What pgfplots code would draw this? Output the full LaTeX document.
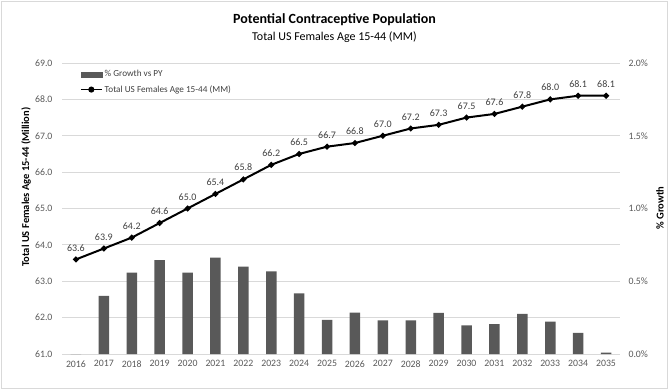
\documentclass[border=0pt]{standalone}
\usepackage{pgfplots}
\pgfplotsset{compat=1.18}
\usepackage{fontspec}
\setmainfont{Carlito}
\definecolor{bargray}{HTML}{595959}
\definecolor{gridgray}{HTML}{D9D9D9}
\definecolor{ticktext}{HTML}{595959}
\definecolor{labeltext}{HTML}{404040}

\begin{document}
\begin{tikzpicture}[x=1pt,y=1pt]
\path[use as bounding box] (0,0) rectangle (669,391);
\draw[gridgray, line width=1pt] (1.5,2.5) rectangle (667.5,389.5);
\node[font=\fontsize{14}{16}\selectfont\bfseries] at (334.5,371) {Potential Contraceptive Population};
\node[font=\fontsize{12}{14}\selectfont] at (334.5,354) {Total US Females Age 15-44 (MM)};
\node[rotate=90, font=\fontsize{10.5}{12}\selectfont\bfseries] at (26,204) {Total US Females Age 15-44 (Million)};
\node[rotate=90, font=\fontsize{10.5}{12}\selectfont\bfseries] at (660,183) {\% Growth};

\pgfplotsset{
  common/.style={
    scale only axis, width=558pt, height=291pt,
    at={(62pt,37pt)}, anchor=south west,
    xmin=2015.5, xmax=2035.5,
    axis line style={draw=none},
    tick style={draw=none},
    /pgf/number format/assume math mode=true,
    /pgf/number format/set thousands separator={},
    tick label style={font=\fontsize{9.8}{11}\selectfont, text=ticktext},
    clip=false,
  }
}

\begin{axis}[common,
  ymin=0, ymax=2,
  ytick={0,0.25,0.5,0.75,1,1.25,1.5,1.75,2},
  yticklabels={0.0\%,,0.5\%,,1.0\%,,1.5\%,,2.0\%},
  yticklabel pos=right,
  yticklabel style={xshift=5pt},
  ymajorgrids, grid style={gridgray, line width=0.9pt},
  xtick=\empty,
]
\addplot[ybar, bar width=10.5pt, fill=bargray, draw=none] coordinates {
(2016,0) (2017,0.40) (2018,0.56) (2019,0.646) (2020,0.56) (2021,0.662)
(2022,0.60) (2023,0.568) (2024,0.417) (2025,0.234) (2026,0.285)
(2027,0.231) (2028,0.231) (2029,0.282) (2030,0.197) (2031,0.206)
(2032,0.275) (2033,0.222) (2034,0.146) (2035,0.01)
};
\end{axis}

\begin{axis}[common,
  ymin=61, ymax=69, ytick={61,62,...,69},
  yticklabel={\pgfmathprintnumber[fixed,fixed zerofill,precision=1]{\tick}},
  yticklabel style={xshift=-6pt},
  xtick={2016,2017,...,2035},
  xticklabel style={yshift=-3pt},
  legend style={at={(0.03,0.985)}, anchor=north west, draw=none, fill=none,
    font=\fontsize{9.2}{11}\selectfont, text=labeltext, row sep=3pt, inner sep=1pt},
  legend cell align=left,
]
\addlegendimage{legend image code/.code={\fill[bargray] (0pt,-2.5pt) rectangle (21pt,2.5pt);}}
\addlegendentry{\% Growth vs PY}
\addplot[black, line width=2pt, mark=*, mark size=1.8pt,
  legend image code/.code={\draw[black,line width=1.8pt] (0pt,0pt)--(21pt,0pt); \fill[black] (10.5pt,0pt) circle (2pt);},
  nodes near coords={\pgfmathprintnumber[fixed,fixed zerofill,precision=1]{\pgfplotspointmeta}},
  point meta=y,
  nodes near coords style={font=\fontsize{10}{12}\selectfont, text=labeltext, anchor=south, yshift=4pt}]
coordinates {
(2016,63.6) (2017,63.9) (2018,64.2) (2019,64.6) (2020,65.0) (2021,65.4)
(2022,65.8) (2023,66.2) (2024,66.5) (2025,66.7) (2026,66.8) (2027,67.0)
(2028,67.2) (2029,67.3) (2030,67.5) (2031,67.6) (2032,67.8) (2033,68.0)
(2034,68.1) (2035,68.1)
};
\addlegendentry{Total US Females Age 15-44 (MM)}
\end{axis}
\end{tikzpicture}
\end{document}
